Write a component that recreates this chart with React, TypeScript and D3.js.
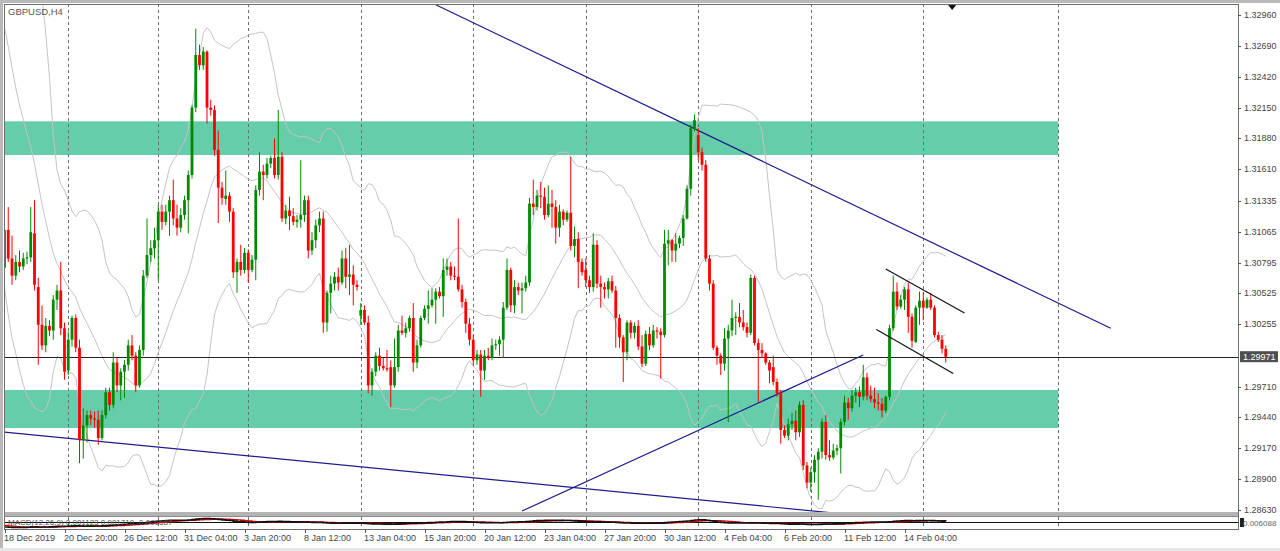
// GBPUSD H4 — MT4-style candle chart with Bollinger bands, S/R zones,
// trend lines and a thin MACD pane. Drawn as JSX with d3 scales/shapes.
import * as d3 from "d3";

const W = 1280;
const H = 551;
const PLOT = { left: 4, top: 4, right: 1238, bottom: 512 };
const PANE = { top: 517, bottom: 529 };

const SYMBOL = "GBPUSD,H4";

// closes before the first visible bar (only feed the band / MACD warm-up)
const WARMUP_CLOSE = [
  1.342, 1.344, 1.343, 1.338, 1.334, 1.333, 1.334, 1.335, 1.338, 1.336,
  1.332, 1.332, 1.331, 1.323, 1.316, 1.314, 1.313, 1.312, 1.31,
];

// H4 candles, 18 Dec 2019 04:00 onwards
const OPEN = [
  1.3075, 1.3108, 1.3083, 1.3068, 1.308, 1.3076, 1.3083, 1.3084, 1.3105, 1.3058,
  1.3025, 1.3007, 1.3024, 1.302, 1.3047, 1.3055, 1.3022, 1.2985, 1.3012, 1.3031,
  1.3005, 1.2924, 1.2937, 1.2946, 1.2943, 1.2942, 1.2926, 1.2946, 1.2966, 1.2955,
  1.2992, 1.2972, 1.2984, 1.299, 1.3007, 1.2998, 1.2972, 1.3003, 1.3068, 1.3086,
  1.3092, 1.3099, 1.3124, 1.3115, 1.3124, 1.3134, 1.3118, 1.311, 1.3121, 1.3134,
  1.3156, 1.3215, 1.3261, 1.3252, 1.3264, 1.3215, 1.3213, 1.3178, 1.3145, 1.3135,
  1.3138, 1.3124, 1.3071, 1.308, 1.3073, 1.3088, 1.3073, 1.3082, 1.3143, 1.3159,
  1.3156, 1.3166, 1.3171, 1.3156, 1.3172, 1.3118, 1.3125, 1.312, 1.3115, 1.3117,
  1.3121, 1.3134, 1.309, 1.3099, 1.3112, 1.3118, 1.3027, 1.3053, 1.3061, 1.3067,
  1.3062, 1.3083, 1.3067, 1.3069, 1.306, 1.3033, 1.3038, 1.3027, 1.2972, 1.2984,
  1.2998, 1.2989, 1.2987, 1.2988, 1.2972, 1.2988, 1.302, 1.3018, 1.3022, 1.3031,
  1.2992, 1.3007, 1.3031, 1.3039, 1.3042, 1.3047, 1.3054, 1.305, 1.3073, 1.3076,
  1.3068, 1.3067, 1.3056, 1.3045, 1.3026, 1.3012, 1.2994, 1.2999, 1.2985, 1.2998,
  1.2996, 1.3007, 1.3008, 1.3012, 1.304, 1.3073, 1.3042, 1.3058, 1.3055, 1.3057,
  1.3062, 1.3131, 1.3128, 1.3138, 1.3137, 1.3121, 1.3131, 1.3128, 1.311, 1.3124,
  1.3117, 1.3123, 1.3094, 1.31, 1.308, 1.3073, 1.3064, 1.3058, 1.3095, 1.3061,
  1.3058, 1.3056, 1.3063, 1.3055, 1.3031, 1.3014, 1.3001, 1.3027, 1.3018, 1.3024,
  1.3006, 1.2991, 1.3017, 1.3007, 1.302, 1.3019, 1.3016, 1.3096, 1.3099, 1.309,
  1.3096, 1.3101, 1.3118, 1.3144, 1.3197, 1.3191, 1.3176, 1.3165, 1.3083, 1.3061,
  1.3005, 1.2998, 1.2991, 1.3013, 1.302, 1.3031, 1.3032, 1.3027, 1.3023, 1.3018,
  1.3066, 1.3009, 1.3003, 1.3, 1.2992, 1.2988, 1.2975, 1.2965, 1.2933, 1.2928,
  1.2938, 1.2941, 1.2931, 1.2955, 1.2902, 1.2887, 1.2896, 1.2907, 1.2914, 1.294,
  1.2911, 1.2909, 1.2915, 1.2917, 1.294, 1.2957, 1.2952, 1.2963, 1.2966, 1.2962,
  1.2979, 1.2963, 1.296, 1.2957, 1.2956, 1.295, 1.2962, 1.3022, 1.3054, 1.3041,
  1.3047, 1.3056, 1.3032, 1.301, 1.304, 1.3046, 1.304, 1.3047, 1.304, 1.3016,
  1.3012, 1.3004,
];
const HIGH = [
  1.3115, 1.3128, 1.3103, 1.3086, 1.309, 1.3088, 1.3089, 1.3128, 1.3134, 1.3066,
  1.3042, 1.3031, 1.3029, 1.3051, 1.306, 1.308, 1.3027, 1.3019, 1.3033, 1.3034,
  1.3012, 1.2952, 1.295, 1.295, 1.2949, 1.295, 1.295, 1.297, 1.297, 1.3001,
  1.2996, 1.2987, 1.2994, 1.3012, 1.3016, 1.3001, 1.3007, 1.3073, 1.3118, 1.3099,
  1.311, 1.313, 1.313, 1.313, 1.3138, 1.3152, 1.313, 1.3127, 1.3138, 1.316,
  1.3217, 1.3284, 1.327, 1.3268, 1.3265, 1.3222, 1.3217, 1.3195, 1.315, 1.316,
  1.3141, 1.3127, 1.3083, 1.3095, 1.3092, 1.3091, 1.3086, 1.3147, 1.3176, 1.3165,
  1.3171, 1.3173, 1.3188, 1.3213, 1.3176, 1.313, 1.3137, 1.3127, 1.3121, 1.3169,
  1.3138, 1.3138, 1.3106, 1.3117, 1.3124, 1.3124, 1.3055, 1.3068, 1.3071, 1.3075,
  1.309, 1.3092, 1.3095, 1.3077, 1.3064, 1.3044, 1.3042, 1.3033, 1.2987, 1.3001,
  1.3005, 1.2996, 1.3003, 1.2994, 1.3013, 1.3025, 1.3033, 1.3027, 1.3033, 1.3044,
  1.3012, 1.3033, 1.3042, 1.3055, 1.3057, 1.3057, 1.3058, 1.3083, 1.3083, 1.308,
  1.3076, 1.3118, 1.306, 1.3048, 1.3031, 1.3016, 1.3003, 1.3003, 1.3003, 1.3005,
  1.3013, 1.3012, 1.3015, 1.3045, 1.3083, 1.3075, 1.3064, 1.3062, 1.3062, 1.3068,
  1.3136, 1.3152, 1.3143, 1.315, 1.3145, 1.3147, 1.3143, 1.3134, 1.313, 1.3126,
  1.3125, 1.3172, 1.3111, 1.3106, 1.3083, 1.3083, 1.3068, 1.3105, 1.3099, 1.3068,
  1.3062, 1.3066, 1.3068, 1.3059, 1.3034, 1.3016, 1.3029, 1.3029, 1.3027, 1.3029,
  1.3016, 1.302, 1.3023, 1.3025, 1.3023, 1.3022, 1.3108, 1.3108, 1.31, 1.3105,
  1.3103, 1.3121, 1.3147, 1.32, 1.3209, 1.3197, 1.318, 1.3169, 1.3086, 1.3064,
  1.3007, 1.3, 1.3022, 1.3025, 1.3047, 1.3036, 1.3044, 1.3038, 1.3027, 1.3069,
  1.3068, 1.3013, 1.3009, 1.3001, 1.2994, 1.2998, 1.2978, 1.2968, 1.2937, 1.2943,
  1.2948, 1.295, 1.2958, 1.2959, 1.2905, 1.29, 1.2911, 1.2917, 1.2943, 1.2946,
  1.2924, 1.2921, 1.292, 1.2943, 1.2963, 1.2961, 1.2968, 1.297, 1.2971, 1.299,
  1.2983, 1.2972, 1.297, 1.2965, 1.2961, 1.2963, 1.3025, 1.3068, 1.3062, 1.3051,
  1.3058, 1.3062, 1.3035, 1.3042, 1.3054, 1.3053, 1.3049, 1.3053, 1.3042, 1.3019,
  1.3016, 1.3007,
];
const LOW = [
  1.3066, 1.308, 1.306, 1.3064, 1.3071, 1.3073, 1.3078, 1.308, 1.3055, 1.299,
  1.3003, 1.3001, 1.3015, 1.3012, 1.3038, 1.3016, 1.2977, 1.2981, 1.3006, 1.3001,
  1.2904, 1.2908, 1.2922, 1.2937, 1.2935, 1.292, 1.2924, 1.2943, 1.295, 1.2952,
  1.2966, 1.2959, 1.2961, 1.2985, 1.2994, 1.2966, 1.297, 1.2998, 1.3066, 1.308,
  1.3083, 1.3064, 1.3108, 1.3112, 1.3103, 1.3112, 1.3103, 1.3106, 1.3117, 1.3105,
  1.3153, 1.3211, 1.3248, 1.3248, 1.3201, 1.3208, 1.3173, 1.3114, 1.313, 1.313,
  1.3115, 1.3066, 1.3053, 1.3068, 1.307, 1.3062, 1.3071, 1.3064, 1.3138, 1.3134,
  1.3153, 1.3162, 1.3153, 1.3152, 1.3115, 1.3113, 1.3108, 1.3112, 1.311, 1.311,
  1.3115, 1.3083, 1.3086, 1.3092, 1.3106, 1.3018, 1.3019, 1.3035, 1.3055, 1.3055,
  1.306, 1.3057, 1.3051, 1.3042, 1.3055, 1.3025, 1.3025, 1.2965, 1.2963, 1.298,
  1.2985, 1.2985, 1.2984, 1.2953, 1.297, 1.2984, 1.3016, 1.3014, 1.3019, 1.2984,
  1.2987, 1.3005, 1.3029, 1.3026, 1.304, 1.3026, 1.3048, 1.3032, 1.3068, 1.3064,
  1.3064, 1.3054, 1.304, 1.3018, 1.3007, 1.299, 1.299, 1.2962, 1.2977, 1.2994,
  1.2994, 1.3003, 1.2998, 1.2996, 1.3038, 1.3036, 1.3035, 1.3051, 1.3035, 1.3054,
  1.3059, 1.3121, 1.3125, 1.3127, 1.3117, 1.3119, 1.311, 1.3096, 1.3102, 1.3112,
  1.3115, 1.309, 1.3084, 1.3057, 1.3068, 1.3058, 1.3053, 1.3054, 1.3057, 1.304,
  1.3048, 1.3048, 1.3053, 1.3005, 1.3005, 1.2975, 1.2994, 1.3013, 1.3013, 1.3003,
  1.2988, 1.2989, 1.3003, 1.3005, 1.3013, 1.2978, 1.3014, 1.3077, 1.308, 1.308,
  1.3092, 1.3094, 1.3117, 1.3138, 1.3194, 1.3169, 1.316, 1.308, 1.3055, 1.3003,
  1.299, 1.2981, 1.2985, 1.294, 1.3015, 1.3016, 1.3023, 1.302, 1.3014, 1.3016,
  1.3007, 1.2957, 1.2996, 1.299, 1.2974, 1.2972, 1.2962, 1.2921, 1.2926, 1.2924,
  1.2933, 1.2924, 1.2927, 1.2898, 1.2882, 1.2879, 1.2887, 1.2872, 1.2908, 1.2907,
  1.2906, 1.2907, 1.2911, 1.2895, 1.2937, 1.2942, 1.2949, 1.2957, 1.2953, 1.2959,
  1.2959, 1.2957, 1.2952, 1.295, 1.2944, 1.2948, 1.2959, 1.302, 1.3038, 1.3039,
  1.3038, 1.3018, 1.3005, 1.3009, 1.3025, 1.3029, 1.3039, 1.3038, 1.3014, 1.301,
  1.3, 1.2992,
];
const CLOSE = [
  1.3108, 1.3083, 1.3068, 1.308, 1.3076, 1.3083, 1.3084, 1.3106, 1.306, 1.3025,
  1.3007, 1.3024, 1.302, 1.3047, 1.3055, 1.3022, 1.2984, 1.3012, 1.3031, 1.3005,
  1.2924, 1.2937, 1.2946, 1.2943, 1.2942, 1.2926, 1.2946, 1.2966, 1.2955, 1.2992,
  1.2972, 1.2984, 1.299, 1.3007, 1.2998, 1.2972, 1.3003, 1.3068, 1.3086, 1.3092,
  1.3099, 1.3124, 1.3115, 1.3124, 1.3134, 1.3118, 1.311, 1.3121, 1.3134, 1.3156,
  1.3215, 1.3261, 1.3252, 1.3264, 1.3215, 1.3213, 1.3178, 1.3145, 1.3136, 1.3138,
  1.3124, 1.3071, 1.308, 1.3073, 1.3088, 1.3073, 1.3082, 1.3143, 1.3159, 1.3156,
  1.3166, 1.3171, 1.3156, 1.3172, 1.3118, 1.3125, 1.312, 1.3115, 1.3117, 1.3121,
  1.3134, 1.309, 1.3099, 1.3112, 1.3118, 1.3027, 1.3053, 1.3061, 1.3067, 1.3062,
  1.3083, 1.3067, 1.3069, 1.306, 1.3058, 1.3038, 1.3027, 1.2972, 1.2984, 1.2998,
  1.2989, 1.2987, 1.2986, 1.2972, 1.2988, 1.302, 1.3018, 1.3022, 1.3031, 1.2992,
  1.3007, 1.3031, 1.3039, 1.3042, 1.3047, 1.3054, 1.305, 1.3073, 1.3076, 1.3068,
  1.3067, 1.3056, 1.3045, 1.3026, 1.3012, 1.2994, 1.2999, 1.2985, 1.2998, 1.2996,
  1.3007, 1.3008, 1.3012, 1.304, 1.3073, 1.3042, 1.3058, 1.3055, 1.3057, 1.3062,
  1.3131, 1.3128, 1.3138, 1.3137, 1.3121, 1.3131, 1.3128, 1.311, 1.3124, 1.3117,
  1.3123, 1.3094, 1.31, 1.308, 1.3071, 1.3064, 1.3058, 1.3095, 1.3061, 1.3058,
  1.3056, 1.3063, 1.3055, 1.3031, 1.3014, 1.3001, 1.3027, 1.3018, 1.3024, 1.3006,
  1.2991, 1.3017, 1.3007, 1.302, 1.3019, 1.3016, 1.3096, 1.3099, 1.309, 1.3096,
  1.3101, 1.3118, 1.3144, 1.3197, 1.3204, 1.3176, 1.3165, 1.3083, 1.3061, 1.3005,
  1.2998, 1.2991, 1.3013, 1.302, 1.3031, 1.3032, 1.3027, 1.3023, 1.3018, 1.3066,
  1.3009, 1.3003, 1.3, 1.2992, 1.2985, 1.2975, 1.2965, 1.2933, 1.2928, 1.2938,
  1.2941, 1.2931, 1.2955, 1.2902, 1.2887, 1.2896, 1.2907, 1.2914, 1.294, 1.2911,
  1.2909, 1.2915, 1.2917, 1.294, 1.2957, 1.2952, 1.2963, 1.2966, 1.2962, 1.2979,
  1.2963, 1.296, 1.2957, 1.2956, 1.295, 1.2962, 1.3022, 1.3054, 1.3041, 1.3047,
  1.3056, 1.3032, 1.3011, 1.304, 1.3046, 1.304, 1.3047, 1.304, 1.3016, 1.3012,
  1.3004, 1.2997,
];

const TIME_LABELS = [
  "18 Dec 2019", "20 Dec 20:00", "26 Dec 12:00", "31 Dec 04:00", "3 Jan 20:00",
  "8 Jan 12:00", "13 Jan 04:00", "15 Jan 20:00", "20 Jan 12:00", "23 Jan 04:00",
  "27 Jan 20:00", "30 Jan 12:00", "4 Feb 04:00", "6 Feb 20:00", "11 Feb 12:00",
  "14 Feb 04:00",
];
const TIME_LABEL_BARS = [0, 16, 32, 48, 64, 80, 96, 112, 128, 144, 160, 176, 192, 208, 224, 240];
const WEEK_BARS = [17, 41, 65, 95, 125, 155, 185, 215, 245, 281];

const PRICE_TICKS = [
  1.3296, 1.3269, 1.3242, 1.3215, 1.3188, 1.3161, 1.31335, 1.31065, 1.30795,
  1.30525, 1.30255, 1.2971, 1.2944, 1.2917, 1.289, 1.2863,
];
const CURRENT_PRICE = 1.29971;

// support / resistance boxes (bar range, price range)
const ZONES = [
  { from: -3, to: 281, hi: 1.3203, lo: 1.31735 },
  { from: -3, to: 281, hi: 1.2968, lo: 1.29347 },
];
// blue trend lines and the black flag channel: [bar, price] → [bar, price]
const TRENDLINES = [
  { b1: 115, p1: 1.3305, b2: 295, p2: 1.3022 },
  { b1: 0, p1: 1.29312, b2: 221, p2: 1.28604 },
  { b1: 138, p1: 1.28621, b2: 229, p2: 1.29986 },
];
const CHANNEL = [
  { b1: 235, p1: 1.30738, b2: 256, p2: 1.30353 },
  { b1: 232.5, p1: 1.30209, b2: 253, p2: 1.29824 },
];
const SHIFT_BAR = 252.7;
const MACD_LABEL = "MACD(12,26,9) 0.001123 0.001710 -0.000587";
const MACD_SCALE_LABEL = "0.006088";

const GREEN = "#008a00";
const RED = "#ff0000";
const BAND = "#c4c4c4";
const TREND = "#1c1c8e";
const FONT = "'Liberation Sans', Arial, sans-serif";

const ema = (arr: number[], n: number) => {
  const k = 2 / (n + 1);
  let e = arr[0];
  return arr.map((v) => (e = v * k + e * (1 - k)));
};

export default function App() {
  const x = d3.scaleLinear().domain([0, 251]).range([4.5, 4.5 + 251 * 3.75]);
  const y = d3.scaleLinear().domain([1.2863, 1.3296]).range([510, 15]);

  const all = [...WARMUP_CLOSE, ...CLOSE];
  const off = WARMUP_CLOSE.length;

  // Bollinger(20, 2)
  const bands = CLOSE.map((_, i) => {
    const win = all.slice(i + off - 19, i + off + 1);
    const m = d3.mean(win)!;
    const sd = Math.sqrt(d3.mean(win, (v) => (v - m) ** 2)!);
    return { i, m, up: m + 2 * sd, lo: m - 2 * sd };
  });
  const bandLine = (key: "m" | "up" | "lo") =>
    d3
      .line<(typeof bands)[number]>()
      .x((d) => x(d.i))
      .y((d) => y(d[key]))(bands)!;

  // MACD(12,26,9), signal = SMA of main
  const e12 = ema(all, 12);
  const e26 = ema(all, 26);
  const main = all.map((_, j) => e12[j] - e26[j]);
  const signal = main.map((_, j) => d3.mean(main.slice(Math.max(0, j - 8), j + 1))!);
  const vis = CLOSE.map((_, i) => ({ i, h: main[i + off], s: signal[i + off] }));
  const ext = d3.extent(vis.flatMap((d) => [d.h, d.s])) as [number, number];
  const ym = d3.scaleLinear().domain(ext).range([PANE.bottom - 1.5, PANE.top + 1.5]);
  const mLine = (key: "h" | "s") =>
    d3
      .line<(typeof vis)[number]>()
      .x((d) => x(d.i))
      .y((d) => ym(d[key]))
      .curve(d3.curveStepAfter)(vis)!;

  const yCur = y(CURRENT_PRICE);

  return (
    <div>
      <style>{`body{margin:0;background:#fff}`}</style>
      <svg width={W} height={H} viewBox={`0 0 ${W} ${H}`} style={{ display: "block" }}>
        <rect width={W} height={H} fill="#fff" />
        <defs>
          <clipPath id="plot">
            <rect x={PLOT.left} y={PLOT.top} width={PLOT.right - PLOT.left} height={PLOT.bottom - PLOT.top} />
          </clipPath>
          <clipPath id="pane">
            <rect x={PLOT.left} y={PANE.top} width={PLOT.right - PLOT.left} height={PANE.bottom - PANE.top} />
          </clipPath>
        </defs>

        <g clipPath="url(#plot)">
          {ZONES.map((z, k) => (
            <rect
              key={k}
              x={x(z.from)}
              y={y(z.hi)}
              width={x(z.to) - x(z.from)}
              height={y(z.lo) - y(z.hi)}
              fill="#66cdaa"
            />
          ))}
          {WEEK_BARS.map((b) => (
            <line
              key={b}
              x1={Math.round(x(b)) + 0.5}
              x2={Math.round(x(b)) + 0.5}
              y1={PLOT.top}
              y2={PLOT.bottom}
              stroke="#6e6e6e"
              strokeDasharray="3 3"
            />
          ))}
          <path d={bandLine("up")} fill="none" stroke={BAND} />
          <path d={bandLine("m")} fill="none" stroke={BAND} />
          <path d={bandLine("lo")} fill="none" stroke={BAND} />
          {TRENDLINES.map((t, k) => (
            <line key={k} x1={x(t.b1)} y1={y(t.p1)} x2={x(t.b2)} y2={y(t.p2)} stroke={TREND} strokeWidth={1.2} />
          ))}
          <line x1={PLOT.left} x2={PLOT.right} y1={Math.round(yCur) + 0.5} y2={Math.round(yCur) + 0.5} stroke="#222" />
          {CLOSE.map((c, i) => {
            const o = OPEN[i];
            const col = c >= o ? GREEN : RED;
            const xc = x(i);
            const top = y(Math.max(o, c));
            const bot = y(Math.min(o, c));
            return (
              <g key={i}>
                <line x1={xc} x2={xc} y1={y(HIGH[i])} y2={y(LOW[i])} stroke={col} strokeWidth={1} />
                <rect x={xc - 1.4} y={top} width={2.8} height={Math.max(1, bot - top)} fill={col} />
              </g>
            );
          })}
          {CHANNEL.map((t, k) => (
            <line key={k} x1={x(t.b1)} y1={y(t.p1)} x2={x(t.b2)} y2={y(t.p2)} stroke="#111" strokeWidth={1.2} />
          ))}
          <path
            d={`M${x(SHIFT_BAR) - 4},${PLOT.top + 1}L${x(SHIFT_BAR) + 4},${PLOT.top + 1}L${x(SHIFT_BAR)},${PLOT.top + 6}Z`}
            fill="#111"
          />
        </g>

        <text x={8} y={15} fontFamily={FONT} fontSize={9.5} fill="#555">
          {SYMBOL}
        </text>

        {/* separator between main chart and the MACD pane */}
        <rect x={PLOT.left} y={PLOT.bottom} width={PLOT.right - PLOT.left} height={4} fill="#b4b4b4" />

        <g clipPath="url(#pane)">
          {WEEK_BARS.map((b) => (
            <line
              key={b}
              x1={Math.round(x(b)) + 0.5}
              x2={Math.round(x(b)) + 0.5}
              y1={PANE.top}
              y2={PANE.bottom}
              stroke="#6e6e6e"
              strokeDasharray="3 3"
            />
          ))}
          <line x1={PLOT.left} x2={PLOT.right} y1={Math.round(ym(0)) + 0.5} y2={Math.round(ym(0)) + 0.5} stroke="#111" />
          <path d={mLine("s")} fill="none" stroke="#e00000" strokeWidth={1.3} />
          <path d={mLine("h")} fill="none" stroke="#111" strokeWidth={1.6} />
          <text x={8} y={524.5} fontFamily={FONT} fontSize={8} fill="#555">
            {MACD_LABEL}
          </text>
        </g>

        {/* frame */}
        <rect x={0} y={0} width={W} height={3} fill="#b9b9b9" />
        <rect x={0} y={0} width={3} height={H} fill="#b9b9b9" />
        <rect x={0} y={H - 3} width={W} height={3} fill="#e6e6e6" />
        <rect
          x={PLOT.left + 0.5}
          y={PLOT.top + 0.5}
          width={PLOT.right - PLOT.left}
          height={PANE.bottom - PLOT.top}
          fill="none"
          stroke="#6e6e6e"
        />
        <line x1={PLOT.left} x2={PLOT.right} y1={PANE.top - 0.5} y2={PANE.top - 0.5} stroke="#8c8c8c" />

        {/* price axis */}
        {PRICE_TICKS.map((p) => (
          <g key={p}>
            <line x1={PLOT.right} x2={PLOT.right + 3} y1={Math.round(y(p)) + 0.5} y2={Math.round(y(p)) + 0.5} stroke="#555" />
            <text x={PLOT.right + 6} y={y(p) + 3} fontFamily={FONT} fontSize={9} fill="#444">
              {p.toFixed(5)}
            </text>
          </g>
        ))}
        <rect x={PLOT.right + 2} y={yCur - 5.5} width={38} height={11} fill="#4f4f4f" />
        <text x={PLOT.right + 5} y={yCur + 3.2} fontFamily={FONT} fontSize={9} fill="#fff">
          {CURRENT_PRICE.toFixed(5)}
        </text>
        <rect x={PLOT.right + 2} y={PANE.top + 1} width={4} height={9} fill="#222" />
        <text x={PLOT.right + 5} y={PANE.top + 8.5} fontFamily={FONT} fontSize={8} fill="#666">
          {MACD_SCALE_LABEL}
        </text>

        {/* time axis */}
        {TIME_LABEL_BARS.map((b, k) => (
          <g key={b}>
            <line x1={Math.round(x(b)) + 0.5} x2={Math.round(x(b)) + 0.5} y1={PANE.bottom} y2={PANE.bottom + 4} stroke="#555" />
            <text x={x(b) - 0.5} y={541} fontFamily={FONT} fontSize={9} fill="#444">
              {TIME_LABELS[k]}
            </text>
          </g>
        ))}
      </svg>
    </div>
  );
}
